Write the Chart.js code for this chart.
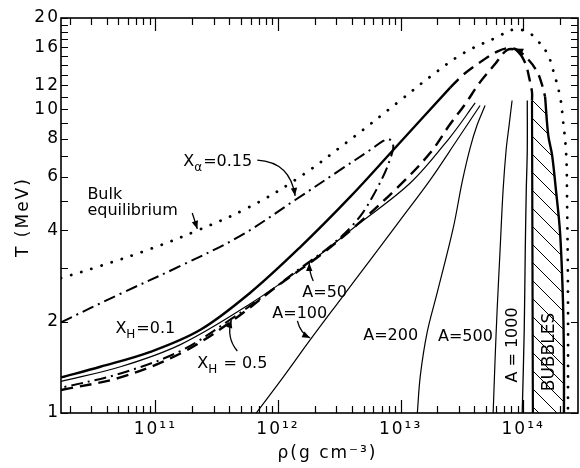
<!DOCTYPE html>
<html><head><meta charset="utf-8">
<script src="https://cdn.jsdelivr.net/npm/chart.js@4.4.1/dist/chart.umd.min.js"></script>
<style>html,body{margin:0;padding:0;background:#fff}canvas{display:block}</style>
</head><body>
<canvas id="c" width="580" height="468"></canvas>
<script>
// ---------- axes ----------
const xTickValues = [1e11, 1e12, 1e13, 1e14];
const xTickLabels = ['10\u00b9\u00b9', '10\u00b9\u00b2', '10\u00b9\u00b3', '10\u00b9\u2074'];
const yTickValues = [1,2,3,4,5,6,7,8,9,10,11,12,13,14,15,16,17,18,19,20];
const yTickLabels = ['1','2','','4','','6','','8','','10','','12','','','','16','','','','20'];

// ---------- curves: rho (g cm^-3), T (MeV) ----------
const bulkRho = [1.7e10, 3.56e10, 9.10e10, 2.16e11, 5.62e11, 1.38e12, 3.67e12, 9.93e12, 1.74e13, 3.24e13, 6.13e13, 8.28e13, 1.08e14, 1.30e14, 1.57e14, 1.75e14, 2.00e14, 2.11e14, 2.24e14, 2.28e14, 2.32e14, 2.32e14];
const bulkT   = [2.78, 3.05, 3.47, 3.98, 4.73, 5.85, 7.81, 10.7, 12.8, 15.3, 17.3, 18.3, 18.0, 16.9, 15.3, 13.5, 11.0, 9.23, 7.18, 5.03, 2.36, 1.0];

const thickRho = [1.7e10, 3.56e10, 9.10e10, 2.33e11, 5.94e11, 1.52e12, 3.88e12, 8.71e12, 2.54e13];
const thickT   = [1.31, 1.42, 1.59, 1.88, 2.49, 3.52, 5.15, 7.35, 11.8];

const outerRho = [2.54e13, 3.24e13, 4.45e13, 6.13e13, 7.40e13, 8.92e13, 1.10e14, 1.30e14, 1.43e14, 1.51e14];
const outerT   = [11.8, 13.0, 14.3, 15.5, 15.9, 15.7, 14.6, 13.3, 12.0, 11.0];

const innerRho = [1.7e10, 5.19e10, 1.60e11, 4.08e11, 1.04e12, 2.21e12, 4.69e12, 9.93e12, 1.74e13, 2.54e13, 3.36e13, 4.45e13, 5.90e13, 7.40e13, 8.92e13, 1.04e14, 1.12e14, 1.18e14, 1.18e14];
const innerT   = [1.19, 1.31, 1.57, 1.99, 2.66, 3.31, 4.26, 5.64, 7.18, 8.95, 10.4, 12.3, 14.1, 15.7, 15.6, 14.2, 12.7, 11.4, 10.7];

const alphaRho = [1.7e10, 5.19e10, 1.60e11, 4.93e11, 1.38e12, 3.22e12, 5.65e12, 7.21e12, 7.93e12, 8.55e12, 8.71e12, 8.38e12, 7.49e12, 6.21e12, 4.96e12, 3.88e12, 2.93e12, 2.21e12, 1.52e12, 8.65e11, 4.08e11, 1.60e11, 5.19e10, 1.7e10];
const alphaT   = [1.99, 2.47, 3.05, 3.83, 5.03, 6.32, 7.35, 7.87, 7.99, 7.81, 7.46, 7.02, 6.22, 5.35, 4.59, 4.07, 3.66, 3.34, 3.00, 2.52, 2.03, 1.60, 1.35, 1.21];

const a50Rho = [1.7e10, 5.19e10, 1.60e11, 5.94e11, 1.83e12, 4.43e12, 1.20e13, 2.54e13, 4.06e13];
const a50T   = [1.27, 1.42, 1.68, 2.29, 3.14, 4.16, 5.72, 8.11, 10.5];

const a100Rho = [6.65e11, 1.10e12, 1.83e12, 3.22e12, 5.65e12, 9.93e12, 1.74e13, 2.89e13, 4.45e13];
const a100T   = [1.0, 1.31, 1.74, 2.36, 3.19, 4.32, 5.85, 7.93, 10.3];

const a200Rho = [1.37e13, 1.45e13, 1.65e13, 1.99e13, 2.69e13, 3.18e13, 3.69e13, 4.21e13, 4.89e13];
const a200T   = [1.0, 1.33, 1.85, 2.49, 4.07, 5.77, 7.46, 8.88, 10.3];

const a500Rho = [5.69e13, 5.90e13, 6.13e13, 6.48e13, 6.86e13, 7.26e13, 7.68e13, 8.12e13];
const a500T   = [1.0, 1.50, 2.18, 3.44, 5.43, 7.35, 8.88, 10.7];

const a1000Rho = [9.82e13, 1.02e14, 1.04e14, 1.06e14, 1.08e14, 1.08e14];
const a1000T   = [1.0, 1.88, 3.44, 5.43, 7.35, 10.7];

const bubbleLeftRho = [1.18e14, 1.19e14, 1.20e14];
const bubbleLeftT   = [10.7, 3.44, 1.0];
const bubbleRightRho = [1.51e14, 1.60e14, 1.72e14, 1.85e14, 2.00e14, 2.11e14, 2.15e14, 2.15e14];
const bubbleRightT   = [11.0, 8.24, 7.08, 5.43, 3.92, 2.36, 1.50, 1.0];

// ---------- annotations (anchored in data coordinates) ----------
const textNotes = [
  {parts:[['X'],['\u03b1','sub'],['=0.15']], at:[1.69e11, 6.51]},
  {parts:[['Bulk']], at:[2.79e10, 5.07]},
  {parts:[['equilibrium']], at:[2.79e10, 4.49]},
  {parts:[['X'],['H','sub'],['=0.1']], at:[4.72e10, 1.834]},
  {parts:[['X'],['H','sub'],[' = 0.5']], at:[2.20e11, 1.406]},
  {parts:[['A=50']], at:[1.58e12, 2.41]},
  {parts:[['A=100']], at:[8.99e11, 2.056]},
  {parts:[['A=200']], at:[4.96e12, 1.74]},
  {parts:[['A=500']], at:[2.02e13, 1.727]}
];
const rotNotes = [
  {text:'A = 1000', at:[8.28e13, 1.675], size:16},
  {text:'BUBBLES', at:[1.63e14, 1.588], size:17}
];
const arrowNotes = [
  {from:[6.78e11, 6.81], via:[1.26e12, 6.71], to:[1.38e12, 5.19]},
  {from:[2.00e11, 4.56], via:null, to:[2.20e11, 4.04]},
  {from:[4.66e11, 1.60], via:[3.79e11, 1.766], to:[4.16e11, 2.025]},
  {from:[1.94e12, 2.72], via:[1.80e12, 2.91], to:[1.80e12, 3.12]},
  {from:[1.44e12, 2.01], via:[1.52e12, 1.834], to:[1.83e12, 1.766]}
];
const peakArrow = {tip:[8.28e13, 15.87], from:[9.62e13, 15.46]};

const FONT = '"DejaVu Sans", "Liberation Sans", sans-serif';
const pts = (r, t) => r.map((v, i) => ({x: v, y: t[i]}));

function line(r, t, w, dash, extra) {
  return Object.assign({
    data: pts(r, t), showLine: true, borderColor: '#000', backgroundColor: '#000',
    borderWidth: w, borderDash: dash || [], pointRadius: 0, tension: 0.35, fill: false
  }, extra || {});
}

const cv = document.getElementById('c');
const mainCtx = cv.getContext('2d');
function hatchPattern() {
  const c = document.createElement('canvas');
  c.width = 18; c.height = 18;
  const g = c.getContext('2d');
  g.strokeStyle = '#000'; g.lineWidth = 1;
  g.beginPath();
  g.moveTo(-2, -2); g.lineTo(20, 20);
  g.moveTo(-2, 16); g.lineTo(2, 20);
  g.moveTo(16, -2); g.lineTo(20, 2);
  g.stroke();
  return mainCtx.createPattern(c, 'repeat');
}

const bubbleShapeRho = bubbleLeftRho.slice().reverse().concat(bubbleRightRho);
const bubbleShapeT = bubbleLeftT.slice().reverse().concat(bubbleRightT);

const datasets = [
  line(bubbleShapeRho, bubbleShapeT, 0, [], {fill: 'shape', backgroundColor: hatchPattern(), borderColor: 'rgba(0,0,0,0)', tension: 0.2}),
  line(bulkRho, bulkT, 2.8, [0.1, 10.5], {borderCapStyle: 'round', tension: 0.4}),
  line(thickRho, thickT, 2.4),
  line(outerRho, outerT, 2.4, [12, 7]),
  line(innerRho, innerT, 2.4, [12, 7]),
  line(alphaRho, alphaT, 2.0, [12, 5, 2, 5]),
  line(a50Rho, a50T, 1.2),
  line(a100Rho, a100T, 1.2),
  line(a200Rho, a200T, 1.2),
  line(a500Rho, a500T, 1.2),
  line(a1000Rho, a1000T, 1.3),
  line(bubbleLeftRho, bubbleLeftT, 2.2, [], {tension: 0.2}),
  line(bubbleRightRho, bubbleRightT, 2.4)
];

function head(ctx, tx, ty, fx, fy, L, W) {
  const a = Math.atan2(ty - fy, tx - fx);
  ctx.beginPath();
  ctx.moveTo(tx, ty);
  ctx.lineTo(tx - L * Math.cos(a) + W * Math.sin(a), ty - L * Math.sin(a) - W * Math.cos(a));
  ctx.lineTo(tx - L * Math.cos(a) - W * Math.sin(a), ty - L * Math.sin(a) + W * Math.cos(a));
  ctx.closePath();
  ctx.fill();
}

const deco = {
  id: 'deco',
  beforeDraw(chart) {
    if ('letterSpacing' in chart.ctx) chart.ctx.letterSpacing = '2px';
  },
  afterDatasetsDraw(chart) {
    const {ctx, chartArea: a, scales: {x, y}} = chart;
    ctx.save();
    ctx.strokeStyle = '#000';
    ctx.lineWidth = 1.6;
    ctx.strokeRect(a.left, a.top, a.right - a.left, a.bottom - a.top);
    ctx.lineWidth = 1.2;
    ctx.beginPath();
    for (let e = 10; e <= 14; e++) {
      for (let m = 1; m <= 9; m++) {
        const v = m * Math.pow(10, e);
        if (v < x.min || v > x.max) continue;
        const px = Math.round(x.getPixelForValue(v)) + 0.5;
        const L = m === 1 ? 13 : 7;
        ctx.moveTo(px, a.bottom); ctx.lineTo(px, a.bottom - L);
        ctx.moveTo(px, a.top); ctx.lineTo(px, a.top + L);
      }
    }
    yTickValues.forEach(v => {
      const py = Math.round(y.getPixelForValue(v)) + 0.5;
      ctx.moveTo(a.left, py); ctx.lineTo(a.left + 7, py);
      ctx.moveTo(a.right, py); ctx.lineTo(a.right - 7, py);
    });
    ctx.stroke();
    ctx.restore();
  },
  afterDraw(chart) {
    const {ctx, chartArea: a, scales: {x, y}} = chart;
    const P = (p) => [x.getPixelForValue(p[0]), y.getPixelForValue(p[1])];
    ctx.save();
    const hasLS = 'letterSpacing' in ctx;
    if (hasLS) ctx.letterSpacing = '0px';
    ctx.fillStyle = '#000';
    ctx.strokeStyle = '#000';
    ctx.textAlign = 'left';
    ctx.textBaseline = 'alphabetic';
    textNotes.forEach(n => {
      let [cx, cy] = P(n.at);
      n.parts.forEach(p => {
        const sub = p[1] === 'sub';
        ctx.font = (sub ? 12 : 16) + 'px ' + FONT;
        ctx.fillText(p[0], cx, sub ? cy + 5 : cy);
        cx += ctx.measureText(p[0]).width + (sub ? 1 : 0);
      });
    });
    rotNotes.forEach(n => {
      const [cx, cy] = P(n.at);
      ctx.save();
      ctx.translate(cx, cy);
      ctx.rotate(-Math.PI / 2);
      ctx.font = n.size + 'px ' + FONT;
      ctx.textAlign = 'center';
      ctx.textBaseline = 'middle';
      ctx.fillText(n.text, 0, 0);
      ctx.restore();
    });
    ctx.lineWidth = 1.3;
    arrowNotes.forEach(n => {
      const f = P(n.from), t = P(n.to);
      ctx.beginPath();
      ctx.moveTo(f[0], f[1]);
      let c = f;
      if (n.via) { c = P(n.via); ctx.quadraticCurveTo(c[0], c[1], t[0], t[1]); }
      else ctx.lineTo(t[0], t[1]);
      ctx.stroke();
      head(ctx, t[0], t[1], c[0], c[1], 8, 3.2);
    });
    const pt = P(peakArrow.tip), pf = P(peakArrow.from);
    head(ctx, pt[0], pt[1], pf[0], pf[1], 10, 4);

    // axis titles
    if (hasLS) ctx.letterSpacing = '2px';
    ctx.font = '17px ' + FONT;
    ctx.textAlign = 'center';
    ctx.textBaseline = 'alphabetic';
    ctx.fillText('\u03c1(g cm\u207b\u00b3)', (a.left + a.right) / 2 + 8, chart.height - 10);
    ctx.save();
    ctx.translate(24, y.getPixelForValue(4.42));
    ctx.rotate(-Math.PI / 2);
    ctx.textBaseline = 'middle';
    ctx.fillText('T (MeV)', 0, 0);
    ctx.restore();
    ctx.restore();
    if (hasLS) ctx.letterSpacing = '0px';
  }
};

new Chart(cv, {
  type: 'scatter',
  data: {datasets},
  plugins: [deco],
  options: {
    responsive: false,
    animation: false,
    devicePixelRatio: 1,
    events: [],
    layout: {padding: {left: 0, right: 2, top: 18, bottom: 0}},
    plugins: {legend: {display: false}, tooltip: {enabled: false}},
    scales: {
      x: {
        type: 'logarithmic', position: 'bottom', min: 1.7e10, max: 2.8e14,
        afterBuildTicks: s => { s.ticks = xTickValues.map(v => ({value: v})); },
        afterFit: s => { s.height = 55; },
        grid: {display: false, drawTicks: false},
        border: {display: false},
        ticks: {autoSkip: false, maxRotation: 0, padding: 6, color: '#000',
          font: {family: FONT, size: 17},
          callback: (v, i) => xTickLabels[i]}
      },
      y: {
        type: 'logarithmic', position: 'left', min: 1, max: 20,
        afterBuildTicks: s => { s.ticks = yTickValues.map(v => ({value: v})); },
        afterFit: s => { s.width = 61; },
        grid: {display: false, drawTicks: false},
        border: {display: false},
        ticks: {autoSkip: false, padding: 1, color: '#000',
          font: {family: FONT, size: 17},
          callback: (v, i) => yTickLabels[i]}
      }
    }
  }
});
</script>
</body></html>
